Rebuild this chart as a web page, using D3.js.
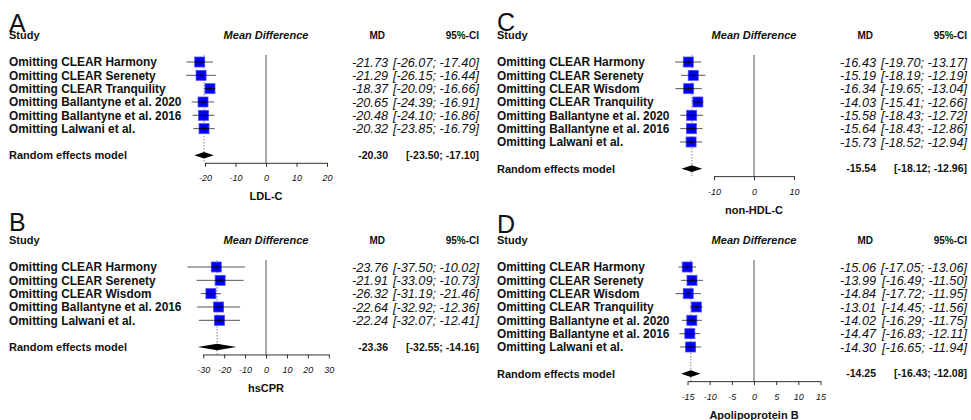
<!DOCTYPE html>
<html>
<head>
<meta charset="utf-8">
<script src="https://cdn.jsdelivr.net/npm/d3@7"></script>
<style>
  body { margin: 0; background: #fff; }
  text { font-family: "Liberation Sans", Arial, sans-serif; fill: #111; }
</style>
</head>
<body>
<svg id="chart" width="971" height="420"></svg>
<script>
// study labels
var studiesA = ["Omitting CLEAR Harmony", "Omitting CLEAR Serenety", "Omitting CLEAR Tranquility",
                "Omitting Ballantyne et al. 2020", "Omitting Ballantyne et al. 2016", "Omitting Lalwani et al."];
var studiesB = ["Omitting CLEAR Harmony", "Omitting CLEAR Serenety", "Omitting CLEAR Wisdom",
                "Omitting Ballantyne et al. 2016", "Omitting Lalwani et al."];
var studiesCD = ["Omitting CLEAR Harmony", "Omitting CLEAR Serenety", "Omitting CLEAR Wisdom",
                 "Omitting CLEAR Tranquility", "Omitting Ballantyne et al. 2020",
                 "Omitting Ballantyne et al. 2016", "Omitting Lalwani et al."];

// A: LDL-C
var mdA = [-21.73, -21.29, -18.37, -20.65, -20.48, -20.32];
var loA = [-26.07, -26.15, -20.09, -24.39, -24.10, -23.85];
var hiA = [-17.40, -16.44, -16.66, -16.91, -16.86, -16.79];
var sumA = [-20.30, -23.50, -17.10];
var ticksA = [-20, -10, 0, 10, 20];

// B: hsCPR
var mdB = [-23.76, -21.91, -26.32, -22.64, -22.24];
var loB = [-37.50, -33.09, -31.19, -32.92, -32.07];
var hiB = [-10.02, -10.73, -21.46, -12.36, -12.41];
var sumB = [-23.36, -32.55, -14.16];
var ticksB = [-30, -20, -10, 0, 10, 20, 30];

// C: non-HDL-C
var mdC = [-16.43, -15.19, -16.34, -14.03, -15.58, -15.64, -15.73];
var loC = [-19.70, -18.19, -19.65, -15.41, -18.43, -18.43, -18.52];
var hiC = [-13.17, -12.19, -13.04, -12.66, -12.72, -12.86, -12.94];
var sumC = [-15.54, -18.12, -12.96];
var ticksC = [-10, 0, 10];

// D: Apolipoprotein B
var mdD = [-15.06, -13.99, -14.84, -13.01, -14.02, -14.47, -14.30];
var loD = [-17.05, -16.49, -17.72, -14.45, -16.29, -16.83, -16.65];
var hiD = [-13.06, -11.50, -11.95, -11.56, -11.75, -12.11, -11.94];
var sumD = [-14.25, -16.43, -12.08];
var ticksD = [-15, -10, -5, 0, 5, 10, 15];

var panels = [
  {letter: "A", title: "LDL-C", studies: studiesA, md: mdA, lo: loA, hi: hiA, sum: sumA, ticks: ticksA, dx: 0, dy: 0, half: 61, letterY: 31.5},
  {letter: "B", title: "hsCPR", studies: studiesB, md: mdB, lo: loB, hi: hiB, sum: sumB, ticks: ticksB, dx: 0, dy: 205, half: 62.8, letterY: 26},
  {letter: "C", title: "non-HDL-C", studies: studiesCD, md: mdC, lo: loC, hi: hiC, sum: sumC, ticks: ticksC, dx: 488, dy: 0, half: 40, letterY: 30.5},
  {letter: "D", title: "Apolipoprotein B", studies: studiesCD, md: mdD, lo: loD, hi: hiD, sum: sumD, ticks: ticksD, dx: 488, dy: 205, half: 66.5, letterY: 28}
];

var svg = d3.select("#chart");
svg.append("rect").attr("width", 971).attr("height", 420).attr("fill", "#fff");

var fmt = function(v) { return v.toFixed(2); };
var rowStep = 13.33;
var box = 10;

panels.forEach(function(p) {
  var g = svg.append("g").attr("transform", "translate(" + p.dx + "," + p.dy + ")");
  var n = p.studies.length;
  var ext = d3.extent(p.ticks);
  var x = d3.scaleLinear().domain(ext).range([266 - p.half * (-ext[0]) / ext[1], 266 + p.half]);
  var y = d3.scaleLinear().domain([0, 1]).range([62, 62 + rowStep]);
  var axisY = y(n + 1) + 7.5;
  var topY = 55;

  // panel letter
  g.append("text").attr("x", 9).attr("y", p.letterY)
    .style("font-size", "25px").text(p.letter);

  // headers
  g.append("text").attr("x", 9).attr("y", 38.5)
    .style("font-size", "11px").style("font-weight", "bold").text("Study");
  g.append("text").attr("x", x(0)).attr("y", 38.5).attr("text-anchor", "middle")
    .style("font-size", "11px").style("font-weight", "bold").style("font-style", "italic")
    .text("Mean Difference");
  g.append("text").attr("x", 385).attr("y", 38.5).attr("text-anchor", "end")
    .style("font-size", "10px").style("font-weight", "bold").text("MD");
  g.append("text").attr("x", 479).attr("y", 38.5).attr("text-anchor", "end")
    .style("font-size", "10px").style("font-weight", "bold").text("95%-CI");

  // study labels
  g.selectAll(".lab").data(p.studies).enter().append("text")
    .attr("x", 9).attr("y", function(d, i) { return y(i); }).attr("dy", "0.36em")
    .style("font-size", "11.9px").style("font-weight", "bold")
    .text(function(d) { return d; });

  g.append("text").attr("x", 9).attr("y", y(n + 1)).attr("dy", "0.36em")
    .style("font-size", "11px").style("font-weight", "bold").text("Random effects model");

  // value columns
  g.selectAll(".mdv").data(p.md).enter().append("text")
    .attr("x", 388).attr("y", function(d, i) { return y(i); }).attr("dy", "0.36em")
    .attr("text-anchor", "end").style("font-size", "12.7px").style("font-style", "italic")
    .text(function(d) { return fmt(d); });
  g.selectAll(".civ").data(p.md).enter().append("text")
    .attr("x", 479).attr("y", function(d, i) { return y(i); }).attr("dy", "0.36em")
    .attr("text-anchor", "end").style("font-size", "12.7px").style("font-style", "italic")
    .text(function(d, i) { return "[" + fmt(p.lo[i]) + "; " + fmt(p.hi[i]) + "]"; });
  g.append("text").attr("x", 388).attr("y", y(n + 1)).attr("dy", "0.36em")
    .attr("text-anchor", "end").style("font-size", "10.5px").style("font-weight", "bold")
    .text(fmt(p.sum[0]));
  g.append("text").attr("x", 479).attr("y", y(n + 1)).attr("dy", "0.36em")
    .attr("text-anchor", "end").style("font-size", "10.5px").style("font-weight", "bold")
    .text("[" + fmt(p.sum[1]) + "; " + fmt(p.sum[2]) + "]");

  // reference lines
  g.append("line").attr("x1", x(0)).attr("x2", x(0)).attr("y1", topY).attr("y2", axisY)
    .attr("stroke", "#555").attr("stroke-width", 1);
  g.append("line").attr("x1", x(p.sum[0])).attr("x2", x(p.sum[0])).attr("y1", topY).attr("y2", axisY)
    .attr("stroke", "#888").attr("stroke-width", 1).attr("stroke-dasharray", "1.5,1.5");

  // CI lines
  g.selectAll(".ci").data(p.md).enter().append("line")
    .attr("x1", function(d, i) { return x(p.lo[i]); })
    .attr("x2", function(d, i) { return x(p.hi[i]); })
    .attr("y1", function(d, i) { return y(i); })
    .attr("y2", function(d, i) { return y(i); })
    .attr("stroke", "#555").attr("stroke-width", 1);

  // squares
  g.selectAll(".sq").data(p.md).enter().append("rect")
    .attr("x", function(d) { return x(d) - box / 2; })
    .attr("y", function(d, i) { return y(i) - box / 2; })
    .attr("width", box).attr("height", box)
    .attr("fill", "#0000ff").attr("stroke", "#4d4dff").attr("stroke-width", 0.8);

  // black line inside square + centre tick
  g.selectAll(".inner").data(p.md).enter().append("line")
    .attr("x1", function(d, i) { return Math.max(x(p.lo[i]), x(d) - box / 2); })
    .attr("x2", function(d, i) { return Math.min(x(p.hi[i]), x(d) + box / 2); })
    .attr("y1", function(d, i) { return y(i); })
    .attr("y2", function(d, i) { return y(i); })
    .attr("stroke", "#000").attr("stroke-width", 1);
  g.selectAll(".tick2").data(p.md).enter().append("line")
    .attr("x1", function(d) { return x(d); }).attr("x2", function(d) { return x(d); })
    .attr("y1", function(d, i) { return y(i) - 1.5; })
    .attr("y2", function(d, i) { return y(i) + 1.5; })
    .attr("stroke", "#000").attr("stroke-width", 1);

  // diamond
  var yc = y(n + 1);
  g.append("polygon")
    .attr("points", [[x(p.sum[1]), yc], [x(p.sum[0]), yc - 3.3], [x(p.sum[2]), yc], [x(p.sum[0]), yc + 3.3]]
      .map(function(d) { return d.join(","); }).join(" "))
    .attr("fill", "#000");

  // axis
  var ax = g.append("g").attr("transform", "translate(0," + axisY + ")")
    .call(d3.axisBottom(x).tickValues(p.ticks).tickSize(4).tickSizeOuter(0).tickPadding(8)
      .tickFormat(function(d) { return String(d); }));
  ax.select(".domain").attr("stroke", "#333");
  ax.selectAll(".tick line").attr("stroke", "#333");
  ax.selectAll(".tick text").style("font-size", "9px").style("font-style", "italic")
    .style("font-family", "'Liberation Sans', Arial, sans-serif").attr("fill", "#222");

  g.append("text").attr("x", x(0)).attr("y", axisY + 37.5).attr("text-anchor", "middle")
    .style("font-size", "11px").style("font-weight", "bold").text(p.title);
});
</script>
</body>
</html>
